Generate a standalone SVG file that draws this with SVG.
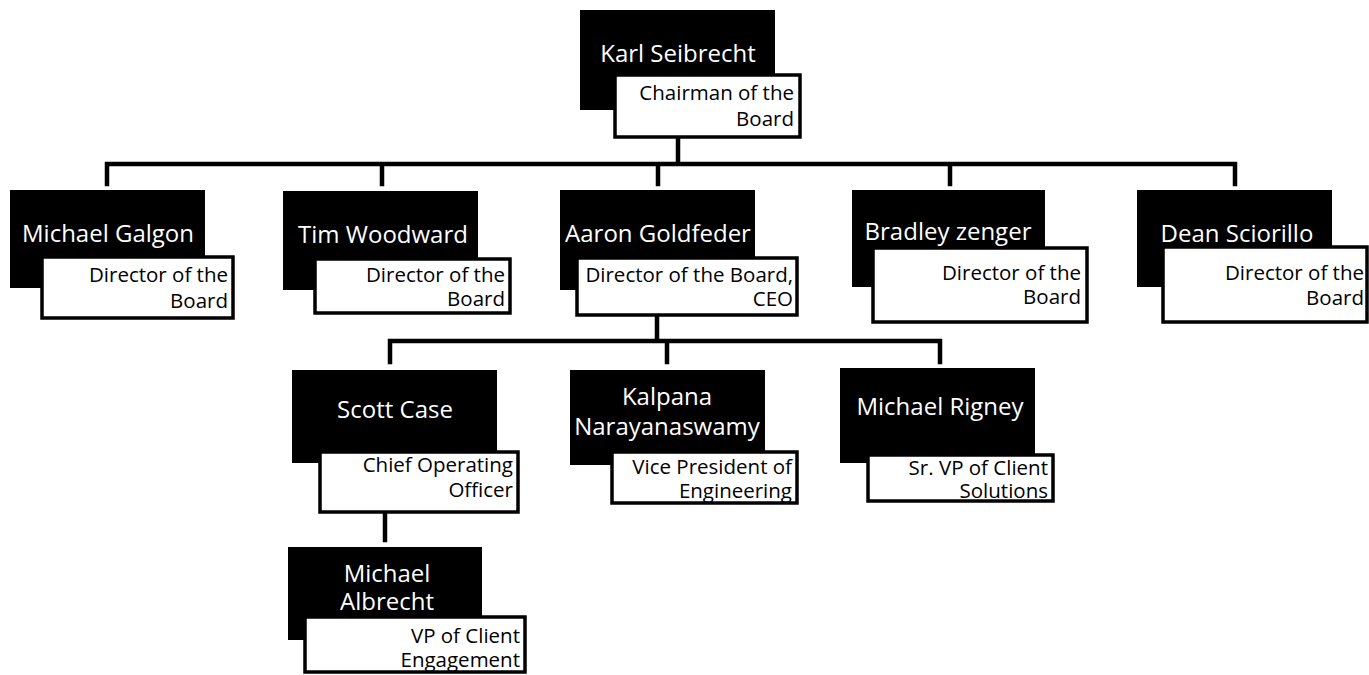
<svg xmlns="http://www.w3.org/2000/svg" width="1369" height="675" viewBox="0 0 1369 675">
<style>
.bk{fill:#000}
.wt{fill:#fff;stroke:#000;stroke-width:3.5}
.nm{font-family:"Open Sans","Liberation Sans",sans-serif;font-size:24px;fill:#fff;text-anchor:middle}
.tt{font-family:"Open Sans","Liberation Sans",sans-serif;font-size:20.5px;fill:#000;text-anchor:end}
.cn{fill:none;stroke:#000;stroke-width:4.5;stroke-linecap:square}
</style>
<rect width="1369" height="675" fill="#fff"/>
<g id="connectors">
<path class="cn" d="M678 137V164M107 184V164H1235V184M382 164V184M658 164V184M950 164V184"/>
<path class="cn" d="M657 315V341M390 362V341H940V362M667 341V362"/>
<path class="cn" d="M385 512V540"/>
</g>
<g id="karl">
<rect class="bk" x="580" y="10" width="195" height="100"/>
<rect class="wt" x="615" y="75" width="185" height="62"/>
<text class="nm" x="678" y="62">Karl Seibrecht</text>
<text class="tt" x="794" y="100">Chairman of the</text>
<text class="tt" x="794" y="126">Board</text>
</g>
<g id="galgon">
<rect class="bk" x="10" y="190" width="195" height="98"/>
<rect class="wt" x="42" y="257" width="191" height="61"/>
<text class="nm" x="108" y="242">Michael Galgon</text>
<text class="tt" x="228" y="282">Director of the</text>
<text class="tt" x="228" y="308">Board</text>
</g>
<g id="woodward">
<rect class="bk" x="283" y="191" width="195" height="99"/>
<rect class="wt" x="315" y="259" width="195" height="54"/>
<text class="nm" x="383" y="243">Tim Woodward</text>
<text class="tt" x="505" y="282">Director of the</text>
<text class="tt" x="505" y="306">Board</text>
</g>
<g id="goldfeder">
<rect class="bk" x="560" y="190" width="195" height="100"/>
<rect class="wt" x="577" y="258" width="220" height="57"/>
<text class="nm" x="658" y="242">Aaron Goldfeder</text>
<text class="tt" x="793" y="282">Director of the Board,</text>
<text class="tt" x="793" y="306">CEO</text>
</g>
<g id="zenger">
<rect class="bk" x="852" y="190" width="193" height="97"/>
<rect class="wt" x="873" y="248" width="214" height="74"/>
<text class="nm" x="948" y="240">Bradley zenger</text>
<text class="tt" x="1081" y="280">Director of the</text>
<text class="tt" x="1081" y="304">Board</text>
</g>
<g id="sciorillo">
<rect class="bk" x="1137" y="190" width="195" height="97"/>
<rect class="wt" x="1163" y="247" width="204" height="75"/>
<text class="nm" x="1237" y="242">Dean Sciorillo</text>
<text class="tt" x="1364" y="280">Director of the</text>
<text class="tt" x="1364" y="305">Board</text>
</g>
<g id="case">
<rect class="bk" x="292" y="370" width="205" height="93"/>
<rect class="wt" x="320" y="452" width="198" height="60"/>
<text class="nm" x="395" y="418">Scott Case</text>
<text class="tt" x="513" y="472">Chief Operating</text>
<text class="tt" x="513" y="497">Officer</text>
</g>
<g id="narayanaswamy">
<rect class="bk" x="570" y="370" width="195" height="95"/>
<rect class="wt" x="612" y="452" width="185" height="51"/>
<text class="nm" x="667" y="405">Kalpana</text>
<text class="nm" x="667" y="435">Narayanaswamy</text>
<text class="tt" x="792" y="474">Vice President of</text>
<text class="tt" x="792" y="498">Engineering</text>
</g>
<g id="rigney">
<rect class="bk" x="840" y="368" width="195" height="95"/>
<rect class="wt" x="868" y="455" width="185" height="46"/>
<text class="nm" x="940" y="415">Michael Rigney</text>
<text class="tt" x="1048" y="475">Sr. VP of Client</text>
<text class="tt" x="1048" y="498">Solutions</text>
</g>
<g id="albrecht">
<rect class="bk" x="288" y="547" width="194" height="93"/>
<rect class="wt" x="305" y="617" width="220" height="55"/>
<text class="nm" x="387" y="582">Michael</text>
<text class="nm" x="387" y="610">Albrecht</text>
<text class="tt" x="520" y="643">VP of Client</text>
<text class="tt" x="520" y="667">Engagement</text>
</g>
</svg>
